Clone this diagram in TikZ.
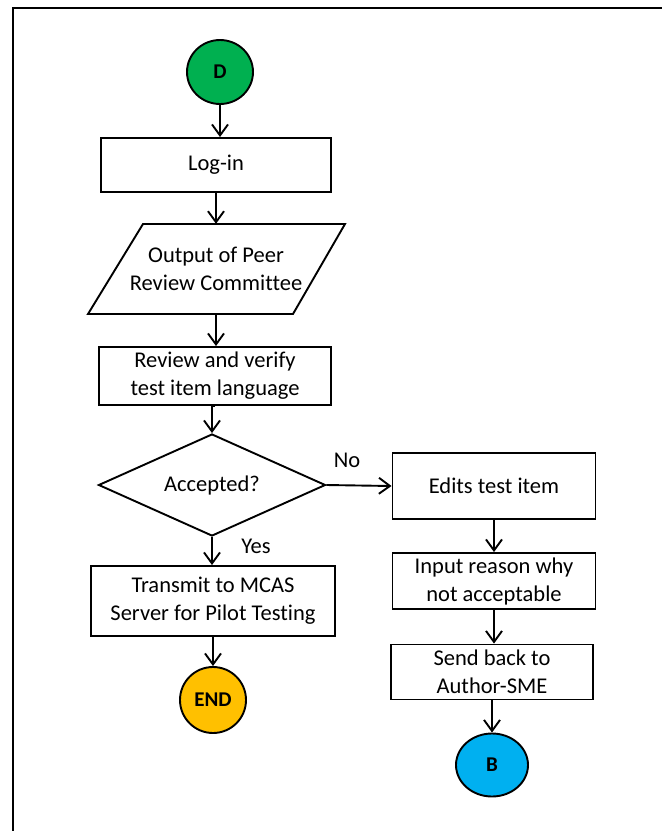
\documentclass[tikz,border=0pt]{standalone}
\usepackage{fontspec}
\setmainfont[Ligatures=NoCommon]{Carlito}
\usetikzlibrary{arrows.meta,shapes.geometric}
\definecolor{dgreen}{HTML}{00B050}
\definecolor{dgold}{HTML}{FFC000}
\definecolor{dblue}{HTML}{00B0F0}
\begin{document}
\begin{tikzpicture}[x=1pt,y=-1pt,
  every node/.style={font=\fontsize{22.5}{28}\selectfont},
  box/.style={draw,line width=1.9pt,align=center,inner sep=0pt},
  term/.style={ellipse,draw,line width=1.9pt,inner sep=0pt,font=\fontsize{21}{24}\selectfont\bfseries},
  conn/.style={line width=1.9pt,-{Straight Barb[length=11pt,width=16pt]}},
  lbl/.style={inner sep=0pt}]
\useasboundingbox (0,0) rectangle (662,831);
\draw[line width=1.9pt] (13,831) -- (13,8) -- (662,8);

\node[term,fill=dgreen,minimum width=66pt,minimum height=64pt] (D) at (220,72) {D};
\node[box,minimum width=230pt,minimum height=54pt] (login) at (216,165) {Log-in};
\draw[line width=1.9pt] (143,224) -- (345,224) -- (293,314) -- (88,314) -- cycle;
\node[inner sep=0pt,minimum width=150pt,minimum height=90pt,align=center] (par) at (216,269) {Output of Peer\\Review Committee};
\node[box,minimum width=232pt,minimum height=58pt] (review) at (215,376) {Review and verify\\test item language};
\node[diamond,draw,line width=1.9pt,inner sep=0pt,aspect=2.2,minimum width=227pt,minimum height=102pt] (dia) at (212,485) {Accepted?};
\node[box,minimum width=244pt,minimum height=70pt] (transmit) at (213,601) {Transmit to MCAS\\Server for Pilot Testing};
\node[term,fill=dgold,minimum width=66pt,minimum height=66pt] (end) at (213,700) {END};
\node[box,minimum width=203pt,minimum height=66pt] (edits) at (494,486) {Edits test item};
\node[box,minimum width=203pt,minimum height=56pt] (input) at (494,581) {Input reason why\\not acceptable};
\node[box,minimum width=202pt,minimum height=55pt] (send) at (492,672) {Send back to\\Author-SME};
\node[term,fill=dblue,minimum width=72pt,minimum height=63pt] (B) at (492,765) {B};

\node[lbl] (no) at (347,460) {No};
\node[lbl] (yes) at (256,546) {Yes};

\draw[conn] (D.south) -- (D.south |- login.north);
\draw[conn] (login.south) -- (par.north);
\draw[conn] (par.south) -- (par.south |- review.north);
\draw[conn] (review.south) -- (review.south -| dia.north) -- (dia.north);
\draw[conn] (dia.south) -- (dia.south |- transmit.north);
\draw[conn] (transmit.south) -- (end.north);
\draw[conn] (dia.east) -- (edits.west);
\draw[conn] (edits.south) -- (input.north);
\draw[conn] (input.south) -- (input.south |- send.north);
\draw[conn] (send.south) -- (B.north);
\end{tikzpicture}
\end{document}
